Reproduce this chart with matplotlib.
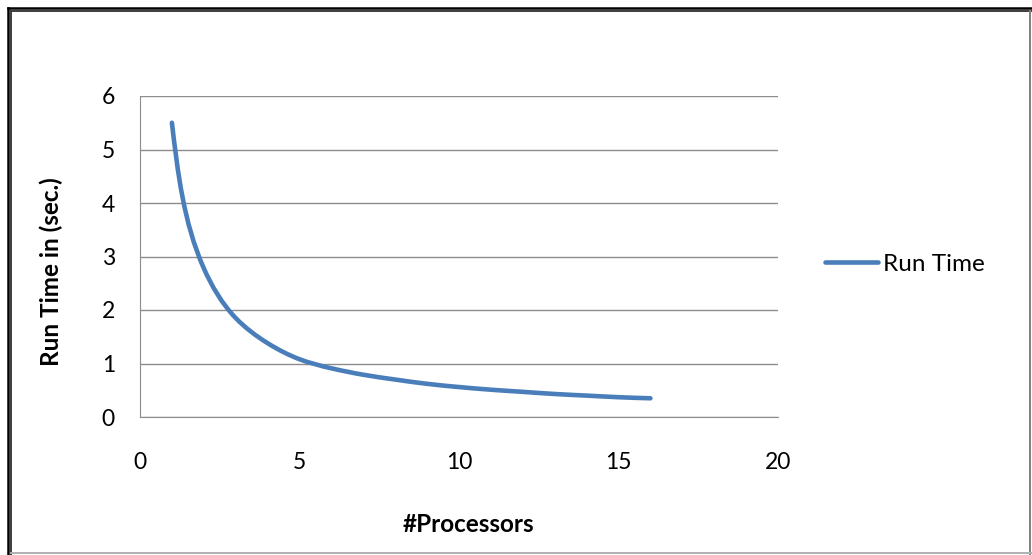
import numpy as np
import matplotlib
matplotlib.use("Agg")
import matplotlib.pyplot as plt
from matplotlib.path import Path
from matplotlib.patches import PathPatch
from matplotlib.lines import Line2D

# measured run time per processor count
processors = [1, 2, 3, 4, 5, 6, 7, 8, 9, 10, 11, 12, 13, 14, 15, 16]
run_time = [5.5, 2.78, 1.85, 1.38, 1.08, 0.91, 0.79, 0.7, 0.62, 0.56,
            0.51, 0.47, 0.43, 0.4, 0.37, 0.35]

x_ticks = [0, 5, 10, 15, 20]
y_ticks = [0, 1, 2, 3, 4, 5, 6]
series_name = "Run Time"

LINE_COLOR = "#4A7EBB"
GRID_COLOR = "#8C8C8C"
plt.rcParams["font.family"] = ["Lato", "DejaVu Sans"]


def spline_slopes(t, v):
    # first derivatives of a natural cubic spline through (t, v)
    n = len(t)
    h = np.diff(t)
    A = np.zeros((n, n))
    b = np.zeros(n)
    A[0, 0] = A[-1, -1] = 1.0
    for i in range(1, n - 1):
        A[i, i - 1] = h[i - 1]
        A[i, i] = 2 * (h[i - 1] + h[i])
        A[i, i + 1] = h[i]
        b[i] = 6 * ((v[i + 1] - v[i]) / h[i] - (v[i] - v[i - 1]) / h[i - 1])
    m = np.linalg.solve(A, b)
    d = np.empty(n)
    d[:-1] = np.diff(v) / h - h * (2 * m[:-1] + m[1:]) / 6
    d[-1] = (v[-1] - v[-2]) / h[-1] + h[-1] * (m[-2] + 2 * m[-1]) / 6
    return d


def smooth_path(xs, ys, sx, sy):
    # smoothed line through every point: parametric spline in screen units,
    # written out as cubic bezier segments
    px = np.asarray(xs, float) * sx
    py = np.asarray(ys, float) * sy
    t = np.concatenate([[0], np.cumsum(np.hypot(np.diff(px), np.diff(py)))])
    dx, dy = spline_slopes(t, px), spline_slopes(t, py)
    verts = [(px[0], py[0])]
    codes = [Path.MOVETO]
    for i in range(len(px) - 1):
        h = (t[i + 1] - t[i]) / 3.0
        verts += [(px[i] + dx[i] * h, py[i] + dy[i] * h),
                  (px[i + 1] - dx[i + 1] * h, py[i + 1] - dy[i + 1] * h),
                  (px[i + 1], py[i + 1])]
        codes += [Path.CURVE4] * 3
    verts = np.array(verts) / [sx, sy]
    return Path(verts, codes)


W, H = 1032, 555
fig = plt.figure(figsize=(W / 100, H / 100), dpi=100)
ax = fig.add_axes([140 / W, 1 - 417 / H, 638 / W, 321 / H])

ax.set_xlim(0, 20)
ax.set_ylim(0, 6)
ax.set_xticks(x_ticks)
ax.set_yticks(y_ticks)

pos = ax.get_position()
px_x = pos.width * W / (ax.get_xlim()[1] - ax.get_xlim()[0])
px_y = pos.height * H / (ax.get_ylim()[1] - ax.get_ylim()[0])
curve = PathPatch(smooth_path(processors, run_time, px_x, px_y), fill=False,
                  edgecolor=LINE_COLOR, linewidth=3.3, capstyle="round",
                  joinstyle="round", zorder=3)
ax.add_patch(curve)

ax.tick_params(axis="both", length=0, labelsize=16.5, colors="#000000")
ax.tick_params(axis="x", pad=25)
ax.tick_params(axis="y", pad=18)

ax.grid(axis="y", color=GRID_COLOR, linewidth=1.0)
ax.set_axisbelow(True)
for side in ["top", "right"]:
    ax.spines[side].set_visible(False)
ax.spines["left"].set_color(GRID_COLOR)
ax.spines["bottom"].set_color(GRID_COLOR)

ax.set_xlabel("#Processors", fontsize=17.5, fontweight="bold")
ax.set_ylabel("Run Time in (sec.)", fontsize=17.5, fontweight="bold")
ax.xaxis.set_label_coords(0.515, -0.3)
ax.yaxis.set_label_coords(-0.121, 0.452)

handle = Line2D([], [], color=LINE_COLOR, linewidth=3.3, solid_capstyle="round")
fig.legend([handle], [series_name], loc="center left",
           bbox_to_anchor=(825 / W, 1 - 264 / H), frameon=False,
           fontsize=17.5, handlelength=2.2, handletextpad=0.17,
           borderpad=0, borderaxespad=0)

# chart frame
def frame_line(xs, ys, color, lw):
    fig.add_artist(Line2D([x / W for x in xs], [1 - y / H for y in ys],
                          color=color, linewidth=lw, transform=fig.transFigure))

frame_line([7.5, 7.5], [555, 7.5], "#000000", 1.8)
frame_line([7.5, 1032], [7.5, 7.5], "#000000", 1.8)
frame_line([11, 11], [555, 11], "#3C3C3C", 1.4)
frame_line([11, 1032], [11, 11], "#3C3C3C", 1.4)
frame_line([1029.5, 1029.5], [11, 555], "#808080", 1.4)
frame_line([11, 1032], [552.5, 552.5], "#B0B0B0", 1.4)

fig.savefig("out.png", dpi=100)
